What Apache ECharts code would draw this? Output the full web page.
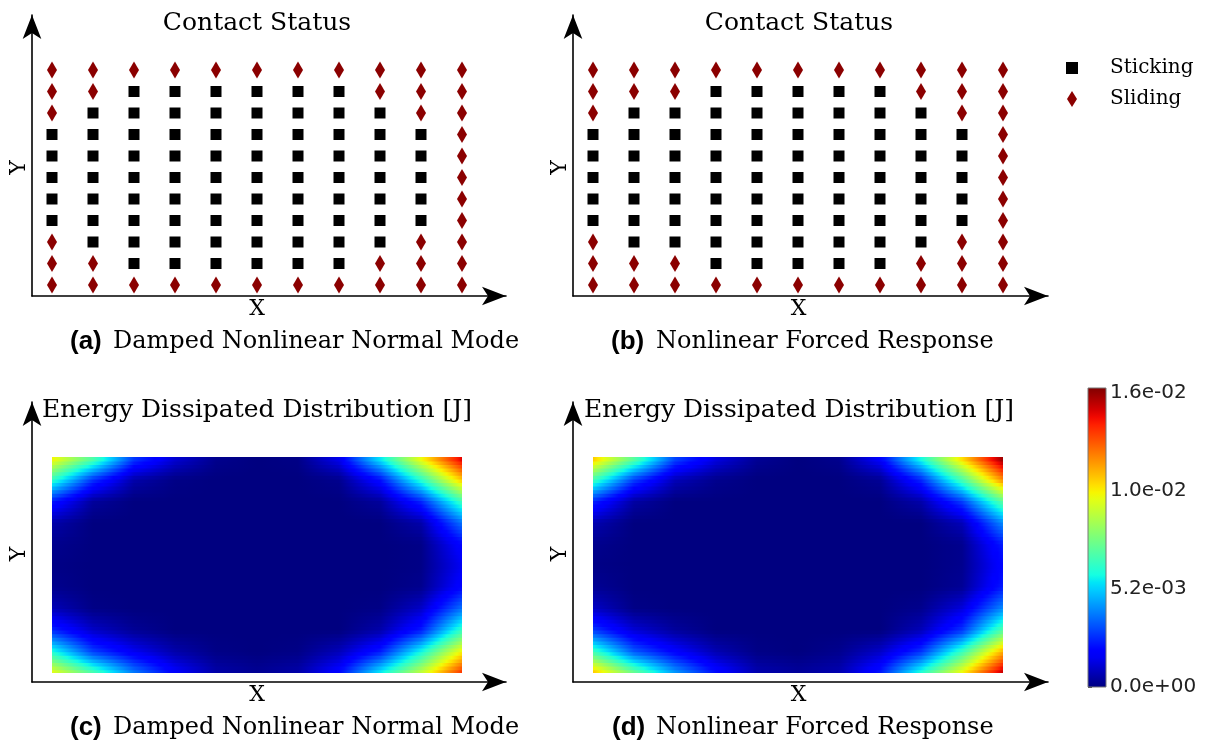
<!DOCTYPE html>
<html>
<head>
<meta charset="utf-8">
<script src="https://cdn.jsdelivr.net/npm/echarts@6/dist/echarts.min.js"></script>
<style>
  html, body { margin: 0; background: #fff; }
  #chart { width: 1209px; height: 744px; }
</style>
</head>
<body>
<div id="chart"></div>
<script>
// Contact status per node, rows from top to bottom. S = sticking, D = sliding
const statusA = [
  'DDDDDDDDDDD',
  'DDSSSSSSDDD',
  'DSSSSSSSSDD',
  'SSSSSSSSSSD',
  'SSSSSSSSSSD',
  'SSSSSSSSSSD',
  'SSSSSSSSSSD',
  'SSSSSSSSSSD',
  'DSSSSSSSSDD',
  'DDSSSSSSDDD',
  'DDDDDDDDDDD'
];
const statusB = [
  'DDDDDDDDDDD',
  'DDDSSSSSDDD',
  'DSSSSSSSSDD',
  'SSSSSSSSSSD',
  'SSSSSSSSSSD',
  'SSSSSSSSSSD',
  'SSSSSSSSSSD',
  'SSSSSSSSSSD',
  'DSSSSSSSSDD',
  'DDDSSSSSDDD',
  'DDDDDDDDDDD'
];

// Energy dissipated per node in mJ, rows from top to bottom
const energyC = [
  [10.6, 7.4, 3.0, 1.2, 0.2, 0.0, 0.1, 1.6, 5.8, 10.4, 14.8],
  [6.6, 2.8, 0.6, 0.1, 0.0, 0.0, 0.0, 0.2, 2.2, 6.4, 11.2],
  [2.4, 0.4, 0.0, 0.0, 0.0, 0.0, 0.0, 0.0, 0.4, 2.6, 6.8],
  [0.6, 0.0, 0.0, 0.0, 0.0, 0.0, 0.0, 0.0, 0.0, 0.6, 3.8],
  [0.2, 0.0, 0.0, 0.0, 0.0, 0.0, 0.0, 0.0, 0.0, 0.1, 2.0],
  [0.1, 0.0, 0.0, 0.0, 0.0, 0.0, 0.0, 0.0, 0.0, 0.1, 1.6],
  [0.2, 0.0, 0.0, 0.0, 0.0, 0.0, 0.0, 0.0, 0.0, 0.2, 2.0],
  [0.8, 0.1, 0.0, 0.0, 0.0, 0.0, 0.0, 0.0, 0.1, 1.0, 3.8],
  [2.6, 1.0, 0.3, 0.0, 0.0, 0.0, 0.0, 0.0, 0.6, 2.4, 6.6],
  [6.2, 3.0, 1.6, 0.6, 0.1, 0.0, 0.1, 0.8, 2.4, 6.0, 10.4],
  [10.2, 7.2, 4.0, 1.9, 0.6, 0.3, 0.6, 2.1, 5.8, 9.4, 13.8]
];
const energyD = [
  [11.4, 7.6, 3.2, 1.4, 0.3, 0.0, 0.2, 1.9, 6.2, 11.0, 15.8],
  [6.9, 3.0, 0.8, 0.2, 0.0, 0.0, 0.0, 0.3, 2.6, 7.0, 12.2],
  [2.6, 0.5, 0.0, 0.0, 0.0, 0.0, 0.0, 0.0, 0.6, 3.0, 7.4],
  [0.7, 0.0, 0.0, 0.0, 0.0, 0.0, 0.0, 0.0, 0.0, 0.8, 4.2],
  [0.2, 0.0, 0.0, 0.0, 0.0, 0.0, 0.0, 0.0, 0.0, 0.2, 2.4],
  [0.1, 0.0, 0.0, 0.0, 0.0, 0.0, 0.0, 0.0, 0.0, 0.2, 2.0],
  [0.3, 0.0, 0.0, 0.0, 0.0, 0.0, 0.0, 0.0, 0.0, 0.3, 2.4],
  [1.0, 0.1, 0.0, 0.0, 0.0, 0.0, 0.0, 0.0, 0.2, 1.3, 4.2],
  [2.9, 1.2, 0.4, 0.0, 0.0, 0.0, 0.0, 0.0, 0.8, 2.8, 7.2],
  [6.8, 3.4, 1.9, 0.7, 0.1, 0.0, 0.2, 1.0, 2.8, 6.7, 11.6],
  [11.4, 7.8, 4.5, 2.2, 0.7, 0.4, 0.7, 2.4, 6.4, 10.4, 15.2]
];

// colorbar
const cbarTicks = [0, 0.0052, 0.0104, 0.0156];
const cbarMax = 0.01587;

const NODES = 11;
const serif = 'DejaVu Serif';

// matplotlib jet
const JR = [[0, 0], [0.35, 0], [0.66, 1], [0.89, 1], [1, 0.5]];
const JG = [[0, 0], [0.125, 0], [0.375, 1], [0.64, 1], [0.91, 0], [1, 0]];
const JB = [[0, 0.5], [0.11, 1], [0.34, 1], [0.65, 0], [1, 0]];
function chan(pts, f) {
  for (let k = 0; k < pts.length - 1; k++) {
    if (f <= pts[k + 1][0]) {
      const t = (f - pts[k][0]) / (pts[k + 1][0] - pts[k][0]);
      return pts[k][1] + t * (pts[k + 1][1] - pts[k][1]);
    }
  }
  return pts[pts.length - 1][1];
}
function jet(v) {
  const f = Math.max(0, Math.min(1, v / cbarMax));
  return 'rgb(' + [JR, JG, JB].map(p => Math.round(chan(p, f) * 255)).join(',') + ')';
}

function pick(status, ch) {
  const out = [];
  status.forEach((row, r) => {
    for (let i = 0; i < row.length; i++) if (row[i] === ch) out.push([i, NODES - 1 - r]);
  });
  return out;
}

// panel frames: axis pixels (arrow tips) plus pixel of node 0 and node spacing
const panels = [
  { left: 32, right: 506, top: 15, bottom: 296, x0: 52, dx: 41, y0: 285, dy: 21.5 },
  { left: 573, right: 1048, top: 15, bottom: 296, x0: 593, dx: 41, y0: 285, dy: 21.5 },
  { left: 32, right: 506, top: 402, bottom: 682, x0: 52, dx: 41, y0: 673, dy: 21.6 },
  { left: 573, right: 1048, top: 402, bottom: 682, x0: 593, dx: 41, y0: 673, dy: 21.6 }
];

const grids = panels.map(p => ({ left: p.left, top: p.top, width: p.right - p.left, height: p.bottom - p.top }));
grids.push({ left: 1088, top: 388, width: 18, height: 299 });

const axisLine = {
  show: true, onZero: false, symbol: ['none', 'arrow'], symbolSize: [14, 24],
  lineStyle: { color: '#000', width: 1.6 }
};
// names sit at the middle of the shaft, not counting the arrow head
const nameStyle = { fontFamily: serif, fontSize: 22, color: '#000', padding: [0, 24, 0, 0] };

const xAxes = panels.map((p, k) => ({
  gridIndex: k, type: 'value',
  min: (p.left - p.x0) / p.dx, max: (p.right - p.x0) / p.dx,
  axisLine, axisTick: { show: false }, axisLabel: { show: false }, splitLine: { show: false },
  name: 'X', nameLocation: 'middle', nameGap: 2, nameTextStyle: nameStyle
}));
const yAxes = panels.map((p, k) => ({
  gridIndex: k, type: 'value',
  min: (p.y0 - p.bottom) / p.dy, max: (p.y0 - p.top) / p.dy,
  axisLine, axisTick: { show: false }, axisLabel: { show: false }, splitLine: { show: false },
  name: 'Y', nameLocation: 'middle', nameGap: 2, nameTextStyle: nameStyle
}));
xAxes.push({ gridIndex: 4, type: 'value', min: 0, max: 1, show: false });
yAxes.push({
  gridIndex: 4, type: 'value', min: 0, max: cbarMax, position: 'right',
  axisLine: { show: false },
  axisTick: { show: true, customValues: cbarTicks, length: 4, lineStyle: { color: '#444' } },
  axisLabel: {
    customValues: cbarTicks, margin: 4, fontFamily: 'DejaVu Sans', fontSize: 20, color: '#222',
    formatter: v => v.toExponential(1).replace(/e([+-])(\d)$/, 'e$10$2')
  },
  splitLine: { show: false }
});

function scatterPair(k, status) {
  return [
    {
      type: 'scatter', name: 'Sticking', xAxisIndex: k, yAxisIndex: k,
      data: pick(status, 'S'), symbol: 'rect', symbolSize: 11,
      itemStyle: { color: '#000', opacity: 1 }, silent: true
    },
    {
      type: 'scatter', name: 'Sliding', xAxisIndex: k, yAxisIndex: k,
      data: pick(status, 'D'), symbol: 'diamond', symbolSize: [10, 17],
      itemStyle: { color: '#8b0000', opacity: 1 }, silent: true
    }
  ];
}

// smooth field: each band between two node rows is drawn as thin strips with horizontal gradients
function heatSeries(k, energy) {
  const node = (i, j) => energy[NODES - 1 - j][i] * 1e-3;
  const ny = 6, nx = 8;
  const bands = [];
  for (let j = 0; j < NODES - 1; j++) bands.push([j]);
  return {
    type: 'custom', xAxisIndex: k, yAxisIndex: k, silent: true, data: bands,
    renderItem: (params, api) => {
      const j = api.value(0);
      const children = [];
      for (let s = 0; s < ny; s++) {
        const tm = (s + 0.5) / ny;
        const stops = [];
        for (let i = 0; i < NODES - 1; i++) {
          for (let u = (i === 0 ? 0 : 1); u <= nx; u++) {
            const fx = u / nx;
            const v = (1 - tm) * ((1 - fx) * node(i, j) + fx * node(i + 1, j)) +
                      tm * ((1 - fx) * node(i, j + 1) + fx * node(i + 1, j + 1));
            stops.push({ offset: (i + fx) / (NODES - 1), color: jet(v) });
          }
        }
        const a = api.coord([0, j + s / ny]);
        const b = api.coord([NODES - 1, j + (s + 1) / ny]);
        // strips overlap a little so no seams show
        const top = (j === NODES - 2 && s === ny - 1) ? b[1] : b[1] - 0.8;
        const bot = (j === 0 && s === 0) ? a[1] : a[1] + 0.8;
        children.push({
          type: 'rect',
          shape: { x: a[0], y: top, width: b[0] - a[0], height: bot - top },
          style: { fill: new echarts.graphic.LinearGradient(0, 0, 1, 0, stops) }
        });
      }
      return { type: 'group', children };
    }
  };
}

const cbarSeries = {
  type: 'custom', xAxisIndex: 4, yAxisIndex: 4, silent: true, data: [[0]],
  renderItem: (params, api) => {
    const a = api.coord([0, 0]);
    const b = api.coord([1, cbarMax]);
    const stops = [];
    for (let s = 0; s <= 40; s++) stops.push({ offset: s / 40, color: jet(cbarMax * s / 40) });
    return {
      type: 'rect',
      shape: { x: a[0], y: b[1], width: b[0] - a[0], height: a[1] - b[1] },
      style: { fill: new echarts.graphic.LinearGradient(0, 1, 0, 0, stops), stroke: '#777', lineWidth: 1 }
    };
  }
};

function label(x, y, text, font, align) {
  return {
    type: 'text', x, y, silent: true,
    style: { text, font, fill: '#000', align: align || 'center', verticalAlign: 'middle' }
  };
}
const head = '25px "DejaVu Serif"';
const cap = '24px "DejaVu Serif"';
const bold = 'bold 26px "Liberation Sans"';

const chart = echarts.init(document.getElementById('chart'));
chart.setOption({
  animation: false,
  grid: grids,
  xAxis: xAxes,
  yAxis: yAxes,
  legend: {
    orient: 'vertical', left: 1061, top: 53, itemWidth: 66, itemHeight: 16, itemGap: 11,
    symbolKeepAspect: true, selectedMode: false,
    textStyle: { fontFamily: serif, fontSize: 20, color: '#000' },
    data: [
      { name: 'Sticking', icon: 'path://M6,-2L6,-2M0,0L12,0L12,12L0,12ZM6,14L6,14' },
      { name: 'Sliding', icon: 'path://M5,0L10,8L5,16L0,8Z' }
    ]
  },
  graphic: [
    label(257, 23, 'Contact Status', head),
    label(799, 23, 'Contact Status', head),
    label(257, 410, 'Energy Dissipated Distribution [J]', head),
    label(799, 410, 'Energy Dissipated Distribution [J]', head),
    label(70, 342, '(a)', bold, 'left'),
    label(113, 342, 'Damped Nonlinear Normal Mode', cap, 'left'),
    label(611, 342, '(b)', bold, 'left'),
    label(656, 342, 'Nonlinear Forced Response', cap, 'left'),
    label(70, 728, '(c)', bold, 'left'),
    label(113, 728, 'Damped Nonlinear Normal Mode', cap, 'left'),
    label(612, 728, '(d)', bold, 'left'),
    label(656, 728, 'Nonlinear Forced Response', cap, 'left')
  ],
  series: [
    ...scatterPair(0, statusA),
    ...scatterPair(1, statusB),
    heatSeries(2, energyC),
    heatSeries(3, energyD),
    cbarSeries
  ]
});
</script>
</body>
</html>
